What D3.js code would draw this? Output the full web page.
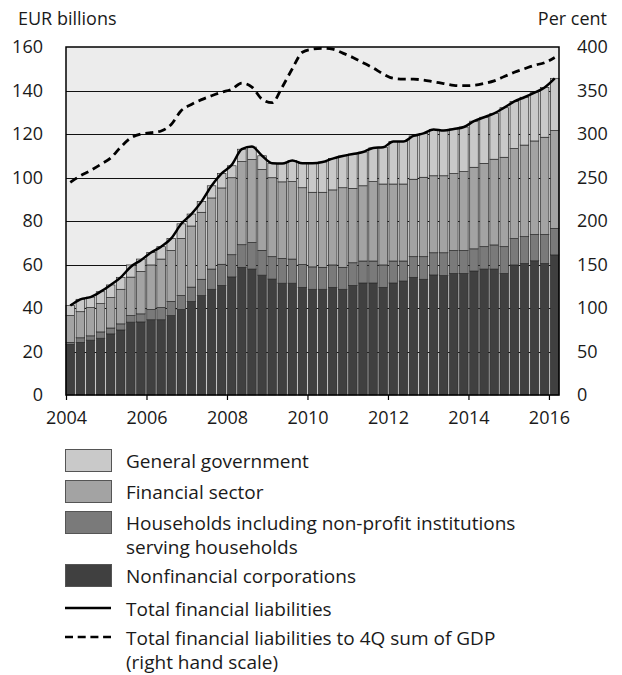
<!DOCTYPE html>
<html><head><meta charset="utf-8">
<script src="https://cdn.jsdelivr.net/npm/d3@7"></script>
<style>
body{margin:0;background:#fff;}
svg text{font-family:"Open Sans","Noto Sans",sans-serif;fill:#1a1a1a;}
</style></head><body>
<svg id="c" width="622" height="675"></svg>
<script>
const quarters = [
 "2004Q1","2004Q2","2004Q3","2004Q4","2005Q1","2005Q2","2005Q3","2005Q4",
 "2006Q1","2006Q2","2006Q3","2006Q4","2007Q1","2007Q2","2007Q3","2007Q4",
 "2008Q1","2008Q2","2008Q3","2008Q4","2009Q1","2009Q2","2009Q3","2009Q4",
 "2010Q1","2010Q2","2010Q3","2010Q4","2011Q1","2011Q2","2011Q3","2011Q4",
 "2012Q1","2012Q2","2012Q3","2012Q4","2013Q1","2013Q2","2013Q3","2013Q4",
 "2014Q1","2014Q2","2014Q3","2014Q4","2015Q1","2015Q2","2015Q3","2015Q4",
 "2016Q1"];
const nonfinancial = [23.3,24.2,25.2,26.1,28.1,29.9,33.5,33.6,34.6,34.6,36.5,39.3,43.0,45.7,48.6,50.4,
 54.3,58.7,57.9,55.1,53.3,51.4,51.4,49.5,48.6,48.6,49.5,48.6,50.4,51.5,51.5,49.5,
 51.5,52.4,54.1,53.2,55.2,54.9,55.9,55.9,57.0,57.9,57.9,55.9,59.8,60.5,61.7,60.5,64.4];
const households = [0.9,2.1,2.0,2.9,2.7,2.8,3.0,3.7,4.7,5.6,6.5,6.4,6.6,7.5,9.3,9.7,
 10.2,10.4,12.2,11.4,10.3,11.4,11.1,10.5,10.3,10.1,10.3,10.1,10.4,10.1,10.1,10.3,
 10.1,9.2,9.5,10.4,10.2,10.5,10.5,10.5,10.2,10.3,11.1,12.3,12.1,12.3,12.1,13.3,12.2];
const financial = [12.3,12.0,13.0,13.0,14.0,15.9,17.7,19.5,20.5,22.3,23.4,26.3,28.1,30.8,32.7,35.1,
 35.4,38.2,38.2,37.2,36.3,35.2,35.6,35.3,34.3,34.5,34.5,36.6,34.2,34.6,36.5,37.2,
 35.4,35.4,35.6,36.5,35.4,35.4,35.4,36.3,37.5,38.3,39.4,41.1,41.4,42.1,43.0,44.7,45.0];
const government = [4.6,5.7,4.8,5.5,5.8,5.5,5.6,5.7,5.7,5.7,5.6,6.7,5.5,4.9,5.6,6.7,
 5.5,5.7,5.7,6.3,6.5,8.4,9.7,11.2,13.3,13.9,14.4,14.6,15.8,15.5,15.5,16.9,
 19.6,19.6,19.9,20.2,21.3,20.8,20.5,20.5,21.2,21.2,21.1,22.8,21.7,22.0,22.2,22.9,24.0];
const totalLiabilities = [41.1,44.0,45.0,47.5,50.6,54.1,59.0,62.0,65.5,68.2,72.0,78.7,83.2,88.9,96.2,101.9,
 105.8,113.0,114.2,110.0,106.6,106.4,107.8,106.5,106.5,107.1,108.7,109.9,110.8,111.7,113.6,113.9,
 116.6,116.6,119.1,120.3,122.1,121.6,122.3,123.2,125.9,127.7,129.5,132.1,135.0,136.9,139.0,141.4,145.6];
const ratioToGDP = [244.5,252,258,265,272.5,285,295.5,300,301.5,303.5,311,327,
 334,339.5,344,348,351.5,358.5,354,340,336,354,375,394,
 397.5,398.5,397.5,393,388,382,376,369,364,363,363,362,
 360,358,356,355.5,356,358,361,366,371,375,379,382,388];
const leftTicks = [0,20,40,60,80,100,120,140,160];
const rightTicks = [0,50,100,150,200,250,300,350,400];
const yearTicks = [2004,2006,2008,2010,2012,2014,2016];
const seriesKeys = ["nonfinancial","households","financial","government"];
const seriesColors = ["#404040","#7a7a7a","#a3a3a3","#c9c9c9"];
const legendRows = [
 {type:"box", color:"#c9c9c9", lines:["General government"]},
 {type:"box", color:"#a3a3a3", lines:["Financial sector"]},
 {type:"box", color:"#7a7a7a", lines:["Households including non-profit institutions","serving households"]},
 {type:"box", color:"#404040", lines:["Nonfinancial corporations"]},
 {type:"line", lines:["Total financial liabilities"]},
 {type:"dash", lines:["Total financial liabilities to 4Q sum of GDP","(right hand scale)"]}
];

const svg = d3.select("#c");
const L=66, R=559, T=47, B=395;
const x = d3.scaleBand().domain(quarters).range([L,R]).paddingInner(0.15).paddingOuter(0);
const xYear = d3.scaleLinear().domain([2004,2016.25]).range([L,R]);
const y = d3.scaleLinear().domain([0,160]).range([B,T]);
const y2 = d3.scaleLinear().domain([0,400]).range([B,T]);

const rows = quarters.map((q,i)=>({q, nonfinancial:nonfinancial[i], households:households[i], financial:financial[i], government:government[i]}));
const stacked = d3.stack().keys(seriesKeys)(rows);

svg.append("rect").attr("x",L).attr("y",T).attr("width",R-L).attr("height",B-T).attr("fill","#ececec");

svg.append("g").selectAll("line").data(leftTicks.filter(d=>d>0&&d<160)).join("line")
  .attr("x1",L).attr("x2",R).attr("y1",d=>Math.round(y(d))+0.5).attr("y2",d=>Math.round(y(d))+0.5)
  .attr("stroke","#111").attr("stroke-width",1);

svg.append("g").selectAll("g").data(stacked).join("g")
  .attr("fill",(d,i)=>seriesColors[i])
  .selectAll("rect").data(d=>d).join("rect")
  .attr("x",d=>x(d.data.q)).attr("width",x.bandwidth())
  .attr("y",d=>y(d[1])).attr("height",d=>y(d[0])-y(d[1]))
  .attr("stroke","#2a2a2a").attr("stroke-width",0.7);

const cx = q => x(q)+x.bandwidth()/2;
svg.append("path").datum(totalLiabilities)
  .attr("d", d3.line().x((d,i)=>cx(quarters[i])).y(d=>y(d)).curve(d3.curveMonotoneX))
  .attr("fill","none").attr("stroke","#000").attr("stroke-width",2.5);
svg.append("path").datum(ratioToGDP)
  .attr("d", d3.line().x((d,i)=>cx(quarters[i])).y(d=>y2(d)).curve(d3.curveMonotoneX))
  .attr("fill","none").attr("stroke","#000").attr("stroke-width",2.8).attr("stroke-dasharray","8,5");

svg.append("rect").attr("x",L).attr("y",T).attr("width",R-L).attr("height",B-T)
  .attr("fill","none").attr("stroke","#000").attr("stroke-width",1.5);

const fs = "18px";
const ax1 = svg.append("g").attr("transform",`translate(${L},0)`)
  .call(d3.axisLeft(y).tickValues(leftTicks).tickSize(0).tickPadding(23));
const ax2 = svg.append("g").attr("transform",`translate(${R},0)`)
  .call(d3.axisRight(y2).tickValues(rightTicks).tickSize(0).tickPadding(18));
const ax3 = svg.append("g").attr("transform",`translate(0,${B})`)
  .call(d3.axisBottom(xYear).tickValues(yearTicks).tickFormat(d3.format("d")).tickSize(5).tickPadding(11));
[ax1,ax2,ax3].forEach(a=>{
  a.select(".domain").remove();
  a.selectAll("text").attr("font-size",fs).attr("font-family",null).style("fill","#1a1a1a");
  a.selectAll("line").attr("stroke","#000").attr("stroke-width",1.2);
});

svg.append("text").attr("x",18).attr("y",25).attr("font-size",fs).text("EUR billions");
svg.append("text").attr("x",607).attr("y",25).attr("font-size",fs).attr("text-anchor","end").text("Per cent");

const lg = svg.append("g");
const rowTops = [449,480,511,564,597,626];
legendRows.forEach((r,i)=>{
  const top = rowTops[i];
  const g = lg.append("g");
  if(r.type==="box"){
    g.append("rect").attr("x",65.5).attr("y",top+0.5).attr("width",46).attr("height",22)
      .attr("fill",r.color).attr("stroke","#555").attr("stroke-width",1);
  } else {
    g.append("line").attr("x1",65).attr("x2",111).attr("y1",top+11).attr("y2",top+11)
      .attr("stroke","#000").attr("stroke-width",r.type==="dash"?2.5:2.5)
      .attr("stroke-dasharray",r.type==="dash"?"8,4.7":null);
  }
  r.lines.forEach((t,j)=>{
    g.append("text").attr("x",126).attr("y",top+19+j*23.5).attr("font-size","19px").text(t);
  });
});
</script>
</body></html>
